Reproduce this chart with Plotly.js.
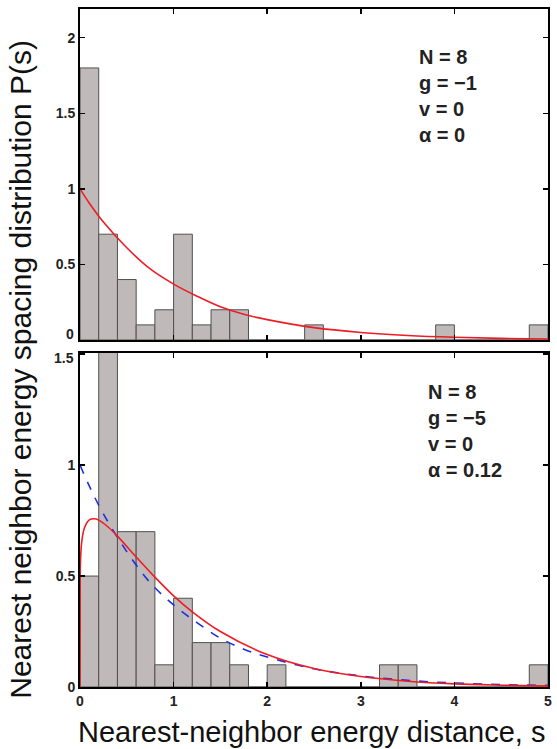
<!DOCTYPE html>
<html>
<head>
<meta charset="utf-8">
<script src="https://cdn.plot.ly/plotly-3.0.1.min.js"></script>
<style>html,body{margin:0;padding:0;background:#fff;}#plot{width:557px;height:749px;}</style>
</head>
<body>
<div id="plot"></div>
<script>
// Histogram bin centres (bin width 0.2)
var binCenters = [0.1,0.3,0.5,0.7,0.9,1.1,1.3,1.5,1.7,1.9,2.1,2.3,2.5,2.7,2.9,3.1,3.3,3.5,3.7,3.9,4.1,4.3,4.5,4.7,4.9];
// Top panel (g = -1, alpha = 0)
var topHeights =    [1.8,0.7,0.4,0.1,0.2,0.7,0.1,0.2,0.2,0,0,0,0.1,0,0,0,0,0,0,0.1,0,0,0,0,0.1];
// Bottom panel (g = -5, alpha = 0.12)
var bottomHeights = [0.5,1.7,0.7,0.7,0.1,0.4,0.2,0.2,0.1,0,0.1,0,0,0,0,0,0.1,0.1,0,0,0,0,0,0,0.1];

// Poisson-like curve (red in top, blue dashed in bottom)
var poisS = [0,0.1,0.25,0.5,0.75,1,1.25,1.5,1.75,2,2.5,3,3.5,4,4.5,5];
var poisP = [1.0,0.905,0.78,0.61,0.47,0.37,0.29,0.22,0.17,0.135,0.082,0.05,0.03,0.018,0.011,0.007];

// Fitted curve in bottom panel (red)
var fitS = [0,0.002,0.005,0.02,0.05,0.1,0.15,0.2,0.3,0.4,0.6,0.8,1.0,1.2,1.5,2.0,2.5,3.0,3.5,4.0,4.5,5.0];
var fitP = [0,0.5,0.566,0.66,0.72,0.753,0.758,0.752,0.721,0.68,0.586,0.495,0.411,0.339,0.25,0.146,0.083,0.047,0.026,0.014,0.008,0.004];

// Tick values / labels
var xTicks = [0,1,2,3,4,5];
var topYTicks = [0,0.5,1,1.5,2];
var topYLabels = ['','0.5','1','1.5','2'];      // '0' drawn separately (raised, as in the original)
var botYTicks = [0,0.5,1,1.5];
var botYLabels = ['0','0.5','1',''];           // '1.5' drawn separately (lowered)

var barColor = '#c0b9b9';
var barLine = '#505050';
var red = '#ee1c24';
var blue = '#1f2fe0';

var traces = [
  {type:'bar', x:binCenters, y:topHeights, width:0.2, xaxis:'x', yaxis:'y',
   marker:{color:barColor, line:{color:barLine, width:1}}, hoverinfo:'none'},
  {type:'scatter', mode:'lines', x:poisS, y:poisP, xaxis:'x', yaxis:'y',
   line:{color:red, width:1.6, shape:'spline'}},
  {type:'bar', x:binCenters, y:bottomHeights, width:0.2, xaxis:'x2', yaxis:'y2',
   marker:{color:barColor, line:{color:barLine, width:1}}, hoverinfo:'none'},
  {type:'scatter', mode:'lines', x:poisS, y:poisP, xaxis:'x2', yaxis:'y2',
   line:{color:blue, width:1.6, dash:'dash', shape:'spline'}},
  {type:'scatter', mode:'lines', x:fitS, y:fitP, xaxis:'x2', yaxis:'y2',
   line:{color:red, width:1.6, shape:'spline'}}
];

var fam = 'Liberation Sans, Arial, sans-serif';
var tickFont = {family:fam, size:14, color:'#222', weight:700};
var axisCommon = {showline:true, linecolor:'#000', linewidth:2, mirror:'ticks', ticks:'inside',
  ticklen:5, tickwidth:1.5, tickcolor:'#000', showgrid:false, zeroline:false, tickfont:tickFont, fixedrange:true};

var layout = {
  width:557, height:749,
  margin:{l:80, r:9, t:9, b:62},
  paper_bgcolor:'#fff', plot_bgcolor:'#fff',
  showlegend:false, bargap:0,
  xaxis: Object.assign({}, axisCommon, {domain:[0,1], range:[0,5], tickvals:xTicks, showticklabels:false, anchor:'y'}),
  yaxis: Object.assign({}, axisCommon, {domain:[0.5118,1], range:[0,2.19], tickvals:topYTicks, ticktext:topYLabels, anchor:'x'}),
  xaxis2: Object.assign({}, axisCommon, {domain:[0,1], range:[0,5], tickvals:xTicks, anchor:'y2'}),
  yaxis2: Object.assign({}, axisCommon, {domain:[0,0.4926], range:[0,1.505], tickvals:botYTicks, ticktext:botYLabels, anchor:'x2'}),
  annotations:[
    {xref:'paper', yref:'paper', x:-0.126, y:0.468, xanchor:'center', yanchor:'middle', textangle:-90,
     text:'Nearest neighbor energy spacing distribution P(s)', showarrow:false,
     font:{family:fam, size:30, color:'#111'}},
    {xref:'paper', yref:'paper', x:0.495, y:-0.066, xanchor:'center', yanchor:'middle',
     text:'Nearest-neighbor energy distance, s', showarrow:false,
     font:{family:fam, size:29, color:'#111'}},
    {xref:'paper', yref:'paper', x:-0.008, y:0.521, xanchor:'right', yanchor:'middle', showarrow:false,
     text:String(topYTicks[0]), font:tickFont},
    {xref:'paper', yref:'paper', x:-0.008, y:0.485, xanchor:'right', yanchor:'middle', showarrow:false,
     text:String(botYTicks[3]), font:tickFont},
    {xref:'x', yref:'paper', x:3.6, y:0.948, xanchor:'left', yanchor:'top', align:'left', showarrow:false,
     text:'N = 8<br>g = \u22121<br>v = 0<br>\u03b1 = 0',
     font:{family:fam, size:20, color:'#222', weight:700}},
    {xref:'x2', yref:'paper', x:3.7, y:0.454, xanchor:'left', yanchor:'top', align:'left', showarrow:false,
     text:'N = 8<br>g = \u22125<br>v = 0<br>\u03b1 = 0.12',
     font:{family:fam, size:20, color:'#222', weight:700}}
  ]
};

Plotly.newPlot('plot', traces, layout, {staticPlot:true, displayModeBar:false});
</script>
</body>
</html>
